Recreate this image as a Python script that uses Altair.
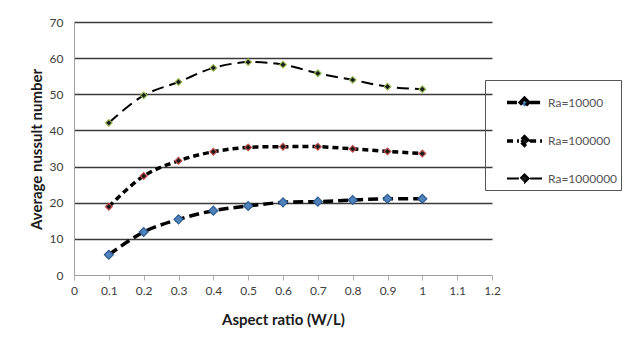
import altair as alt
import pandas as pd

aspect = [0.1, 0.2, 0.3, 0.4, 0.5, 0.6, 0.7, 0.8, 0.9, 1.0]
ra_1e4 = [5.6, 11.9, 15.4, 17.8, 19.1, 20.1, 20.3, 20.75, 21.1, 21.1]
ra_1e5 = [18.9, 27.4, 31.6, 34.1, 35.3, 35.5, 35.5, 34.9, 34.2, 33.6]
ra_1e6 = [42.1, 49.7, 53.4, 57.3, 58.9, 58.2, 55.8, 54.0, 52.1, 51.4]
series = ["Ra=10000", "Ra=100000", "Ra=1000000"]
x_ticks = [0, 0.1, 0.2, 0.3, 0.4, 0.5, 0.6, 0.7, 0.8, 0.9, 1.0, 1.1, 1.2]
y_ticks = [0, 10, 20, 30, 40, 50, 60, 70]

rows = []
for name, vals in zip(series, [ra_1e4, ra_1e5, ra_1e6]):
    for a, v in zip(aspect, vals):
        rows.append({"ar": a, "nu": v, "series": name, "marker": name})
df = pd.DataFrame(rows)

FONT = "Lato"

x_enc = alt.X(
    "ar:Q",
    scale=alt.Scale(domain=[0, 1.2], nice=False, zero=False),
    axis=alt.Axis(
        values=x_ticks, format=".1~f", title="Aspect ratio (W/L)", grid=False,
        labelOverlap=False, labelFlush=False,
        domainColor="#a0a0a0", domainWidth=1, tickColor="#b0b0b0", tickSize=5,
        labelPadding=5, labelFontSize=12, labelColor="#404040", labelFont=FONT,
        titleFont=FONT, titleFontSize=15, titleFontWeight="bold", titleColor="#1a1a1a",
        titleX=209, titleY=44, titleBaseline="middle", titleAlign="center",
    ),
)
y_enc = alt.Y(
    "nu:Q",
    scale=alt.Scale(domain=[0, 70], nice=False),
    axis=alt.Axis(
        values=y_ticks, title="Average nussult number", grid=True,
        labelOverlap=False, labelFlush=False,
        gridColor={"condition": {"test": "datum.value === 0", "value": "transparent"}, "value": "#3a3a3a"},
        gridWidth=1.4, ticks=False, domainColor="#a0a0a0", domainWidth=1,
        labelPadding=11, labelFontSize=12, labelColor="#404040", labelFont=FONT,
        titleFont=FONT, titleFontSize=15, titleFontWeight="bold", titleColor="#1a1a1a",
        titleAngle=-90, titleX=-38, titleY=127, titleBaseline="middle", titleAlign="center",
    ),
)

legend = alt.Legend(
    title=None, orient="none", legendX=411, legendY=58,
    symbolSize=1225, labelFont=FONT, labelFontSize=12,
    labelOffset=4, rowPadding=7.5, padding=3, symbolOffset=17,
    labelExpr="datum.label + '            '",
    symbolType="M-1,0H-0.32M0.32,0H1M0,-0.24L0.24,0L0,0.24L-0.24,0Z",
    symbolStrokeColor="black", symbolStrokeWidth=2, labelColor="#555555",
    strokeColor="#555555",
)

lines = alt.Chart(df).mark_line(color="black", interpolate="catmull-rom").encode(
    x=x_enc,
    y=y_enc,
    strokeDash=alt.StrokeDash(
        "series:N",
        scale=alt.Scale(domain=series, range=[[10, 5], [6, 4], [12, 6]]),
        legend=legend,
    ),
    strokeWidth=alt.StrokeWidth(
        "series:N",
        scale=alt.Scale(type="ordinal", domain=series, range=[3.5, 3.5, 2]),
        legend=None,
    ),
)

points = alt.Chart(df).mark_point(shape="diamond", filled=True, opacity=1, strokeWidth=1.2).encode(
    x=x_enc,
    y=y_enc,
    fill=alt.Fill(
        "series:N",
        scale=alt.Scale(domain=series, range=["#4f81bd", "#1a1a1a", "#1a1a1a"]),
        legend=legend,
    ),
    stroke=alt.Stroke(
        "marker:N",
        scale=alt.Scale(range=["#2e5d8f", "#c0504d", "#9bbb59"]),
        legend=None,
    ),
    size=alt.Size(
        "marker:N", scale=alt.Scale(type="ordinal", range=[80, 45, 45]), legend=None
    ),
)

chart = alt.layer(lines, points).properties(
    width=418, height=253,
    autosize=alt.AutoSizeParams(type="none"),
    padding={"left": 74, "top": 22, "right": 147, "bottom": 76},
    background="white",
).configure_view(stroke=None)

chart.save("out.html", embed_options={"renderer": "svg", "actions": False})
